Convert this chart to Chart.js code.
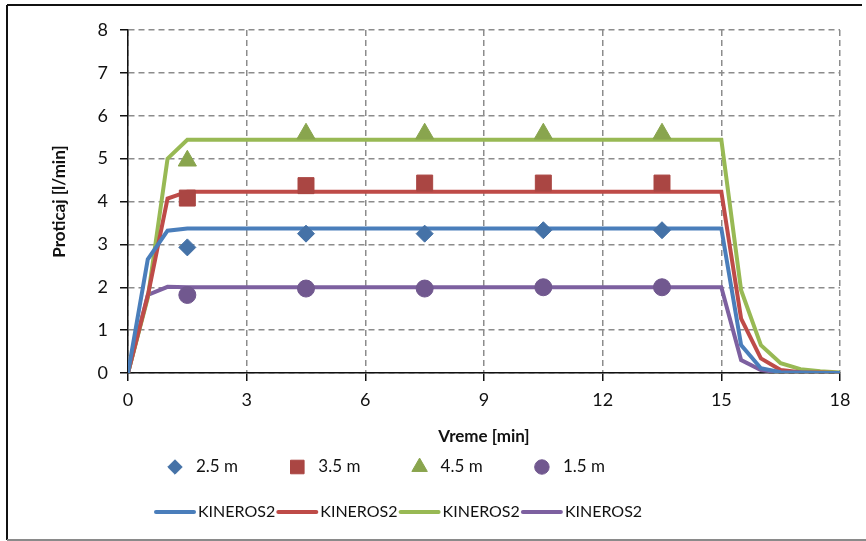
<!DOCTYPE html>
<html>
<head>
<meta charset="utf-8">
<script src="https://cdn.jsdelivr.net/npm/chart.js@4.4.1/dist/chart.umd.min.js"></script>
<style>
  body { margin: 0; background: #fff; }
  #wrap { width: 866px; height: 541px; }
</style>
</head>
<body>
<div id="wrap"><canvas id="chartFlow" width="866" height="541"></canvas></div>
<script>
// measured points (time in min)
const measTime = [1.5, 4.5, 7.5, 10.5, 13.5];
const meas25 = [2.93, 3.25, 3.25, 3.33, 3.33];
const meas35 = [4.08, 4.37, 4.43, 4.43, 4.43];
const meas45 = [4.95, 5.58, 5.58, 5.58, 5.58];
const meas15 = [1.82, 1.97, 1.97, 2.0, 2.0];

// KINEROS2 simulated hydrographs
const simTime = [0, 0.5, 1, 1.5, 15, 15.5, 16, 16.5, 17, 17.5, 18];
const sim25 = [0, 2.65, 3.32, 3.37, 3.37, 0.65, 0.11, 0.02, 0.01, 0, 0];
const sim35 = [0, 1.8, 4.07, 4.23, 4.23, 1.27, 0.34, 0.07, 0.02, 0.01, 0];
const sim45 = [0, 1.75, 5.0, 5.44, 5.44, 1.93, 0.65, 0.23, 0.09, 0.04, 0.01];
const sim15 = [0, 1.82, 2.01, 2.0, 2.0, 0.3, 0.07, 0.01, 0, 0, 0];

const measLabels = ["2.5 m", "3.5 m", "4.5 m", "1.5 m"];
const simLabel = "KINEROS2";

const FONT = "Lato, 'Noto Sans', sans-serif";

function pts(xs, ys) {
  return xs.map((x, i) => ({ x: x, y: ys[i] }));
}

function measSet(label, ys, color, style, radius) {
  return {
    type: "scatter",
    label: label,
    data: pts(measTime, ys),
    pointStyle: style,
    pointRadius: radius,
    pointHoverRadius: radius,
    backgroundColor: color,
    borderColor: color,
    borderWidth: 1,
    order: 0,
  };
}

function simSet(ys, color) {
  return {
    type: "line",
    label: simLabel,
    data: pts(simTime, ys),
    borderColor: color,
    backgroundColor: color,
    borderWidth: 4,
    pointRadius: 0,
    tension: 0,
    fill: false,
    order: 1,
  };
}

// frame + two-row legend like the original
const frameLegend = {
  id: "frameLegend",
  beforeDraw(chart) {
    const ctx = chart.ctx;
    ctx.save();
    ctx.fillStyle = "#fff";
    ctx.fillRect(0, 0, chart.width, chart.height);
    ctx.restore();
  },
  afterDraw(chart) {
    const ctx = chart.ctx;
    ctx.save();
    ctx.strokeStyle = "#111";
    ctx.lineWidth = 2;
    ctx.beginPath();
    ctx.moveTo(7, 5);
    ctx.lineTo(862, 5);
    ctx.moveTo(7, 5);
    ctx.lineTo(7, 540);
    ctx.stroke();
    ctx.strokeStyle = "#8a8a8a";
    ctx.beginPath();
    ctx.moveTo(7, 540);
    ctx.lineTo(866, 540);
    ctx.stroke();

    ctx.fillStyle = "#111";
    ctx.textBaseline = "middle";
    ctx.textAlign = "left";
    chart.data.datasets.forEach((ds, i) => {
      const col = 155 + (i % 4) * 122.3;
      if (ds.type === "scatter") {
        const y = 467;
        ctx.fillStyle = ds.backgroundColor;
        ctx.strokeStyle = ds.borderColor;
        ctx.lineWidth = 1;
        Chart.helpers.drawPoint(ctx, { pointStyle: ds.pointStyle, radius: ds.pointRadius * 0.85, borderWidth: 1 }, col + 20, y);
        ctx.fillStyle = "#111";
        ctx.font = "17px " + FONT;
        ctx.fillText(ds.label, col + 41, y);
      } else {
        const y = 512;
        ctx.strokeStyle = ds.borderColor;
        ctx.lineWidth = 4;
        ctx.lineCap = "round";
        ctx.beginPath();
        ctx.moveTo(col + 1, y);
        ctx.lineTo(col + 39, y);
        ctx.stroke();
        ctx.fillStyle = "#111";
        ctx.font = "16px " + FONT;
        ctx.fillText(ds.label, col + 43, y);
      }
    });
    ctx.restore();
  },
};

const gridCommon = {
  color: "#8c8c8c",
  lineWidth: 1.5,
  tickColor: "#111",
  tickWidth: 1.5,
  tickLength: 8,
  tickBorderDash: [],
};

const borderCommon = { color: "#111", width: 1.5, dash: [6, 4] };

new Chart(document.getElementById("chartFlow").getContext("2d"), {
  data: {
    datasets: [
      measSet(measLabels[0], meas25, "#4572a7", "rectRot", 8.5),
      measSet(measLabels[1], meas35, "#aa4643", "rect", 11.3),
      measSet(measLabels[2], meas45, "#89a54e", "triangle", 10.5),
      measSet(measLabels[3], meas15, "#71588f", "circle", 8.5),
      simSet(sim25, "#4a7ebb"),
      simSet(sim35, "#be4b48"),
      simSet(sim45, "#98b954"),
      simSet(sim15, "#7d60a0"),
    ],
  },
  options: {
    responsive: false,
    animation: false,
    layout: {
      padding: { top: 30, right: 26, bottom: 93, left: 0 },
    },
    scales: {
      x: {
        type: "linear",
        min: 0,
        max: 18,
        afterFit(scale) {
          scale.height = 75;
        },
        ticks: {
          stepSize: 3,
          color: "#111",
          padding: 8,
          font: { family: FONT, size: 18 },
        },
        grid: gridCommon,
        border: borderCommon,
        title: {
          display: true,
          text: "Vreme [min]",
          color: "#111",
          font: { family: FONT, size: 17, weight: "bold" },
          padding: { top: 0, bottom: 1 },
        },
      },
      y: {
        min: 0,
        max: 8,
        afterFit(scale) {
          scale.width = 128;
        },
        ticks: {
          stepSize: 1,
          color: "#111",
          padding: 12,
          font: { family: FONT, size: 18 },
        },
        grid: gridCommon,
        border: borderCommon,
        title: {
          display: true,
          text: "Proticaj [l/min]",
          color: "#111",
          font: { family: FONT, size: 17, weight: "bold" },
          padding: { top: 49, bottom: 0 },
        },
      },
    },
    plugins: {
      legend: { display: false },
      tooltip: { enabled: false },
    },
  },
  plugins: [frameLegend],
});
</script>
</body>
</html>
